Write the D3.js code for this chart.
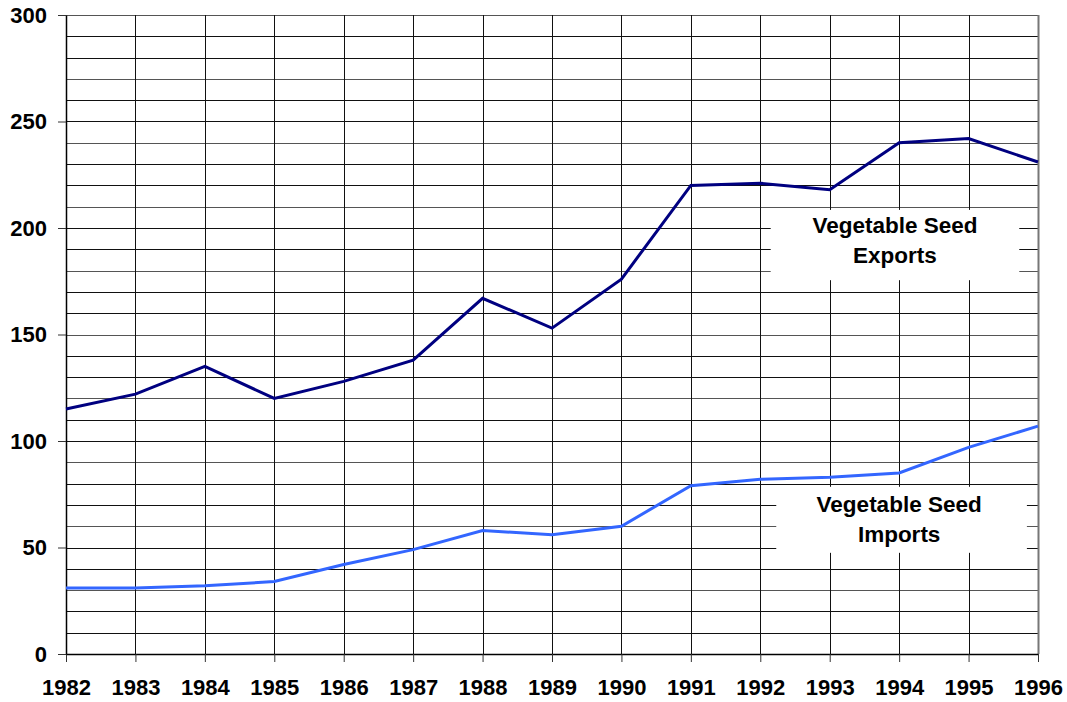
<!DOCTYPE html>
<html>
<head>
<meta charset="utf-8">
<script src="https://cdn.jsdelivr.net/npm/d3@7"></script>
<style>
  body { margin: 0; background: #fff; }
  svg { display: block; font-family: Arial, "Liberation Sans", sans-serif; }
</style>
</head>
<body>
<svg id="drawing_region"></svg>
<script>
// data
const years = [1982, 1983, 1984, 1985, 1986, 1987, 1988, 1989, 1990, 1991, 1992, 1993, 1994, 1995, 1996];
const exportsValues = [115, 122, 135, 120, 128, 138, 167, 153, 176, 220, 221, 218, 240, 242, 231];
const importsValues = [31, 31, 32, 34, 42, 49, 58, 56, 60, 79, 82, 83, 85, 97, 107];
const yTicks = [0, 50, 100, 150, 200, 250, 300];

const config = {
  width: 1067,
  height: 702,
  margin: { top: 15, right: 29, bottom: 48, left: 66 }
};

const svg = d3.select('#drawing_region')
  .attr('width', config.width)
  .attr('height', config.height);

const inner_width = config.width - config.margin.left - config.margin.right;
const inner_height = config.height - config.margin.top - config.margin.bottom;

const chart = svg.append('g')
  .attr('transform', `translate(${config.margin.left}, ${config.margin.top})`);

const xscale = d3.scaleLinear().domain([1982, 1996]).range([0, inner_width]);
const yscale = d3.scaleLinear().domain([0, 300]).range([inner_height, 0]);

// grid lines
chart.append('g')
  .selectAll('line')
  .data(d3.range(10, 301, 10))
  .join('line')
  .attr('x1', 0)
  .attr('x2', inner_width)
  .attr('y1', d => Math.round(yscale(d)) + 0.5)
  .attr('y2', d => Math.round(yscale(d)) + 0.5)
  .attr('stroke', d => d % 30 === 0 ? '#555' : '#111')
  .attr('stroke-width', 1);

chart.append('g')
  .selectAll('line')
  .data(years.slice(1, -1))
  .join('line')
  .attr('x1', d => Math.round(xscale(d)) + 0.5)
  .attr('x2', d => Math.round(xscale(d)) + 0.5)
  .attr('y1', 0)
  .attr('y2', inner_height)
  .attr('stroke', '#111')
  .attr('stroke-width', 1);

// white boxes behind the labels
const boxes = [
  { x0: 1992.15, x1: 1995.73, y0: 208.5, y1: 175.5 },
  { x0: 1992.23, x1: 1995.84, y0: 78.5, y1: 47.5 }
];
chart.append('g')
  .selectAll('rect')
  .data(boxes)
  .join('rect')
  .attr('x', d => xscale(d.x0))
  .attr('y', d => yscale(d.y0))
  .attr('width', d => xscale(d.x1) - xscale(d.x0))
  .attr('height', d => yscale(d.y1) - yscale(d.y0))
  .attr('fill', '#fff');

// right edge of the plot, grey
chart.append('line')
  .attr('x1', inner_width + 0.5).attr('x2', inner_width + 0.5)
  .attr('y1', 0).attr('y2', inner_height)
  .attr('stroke', '#777').attr('stroke-width', 2);

// axes
const xaxis = d3.axisBottom(xscale)
  .tickValues(years)
  .tickFormat(d3.format('d'))
  .tickSizeInner(8)
  .tickSizeOuter(0)
  .tickPadding(17);

const yaxis = d3.axisLeft(yscale)
  .tickValues(yTicks)
  .tickSizeInner(8)
  .tickSizeOuter(0)
  .tickPadding(11);

const xaxis_group = chart.append('g')
  .attr('transform', `translate(0, ${inner_height})`)
  .call(xaxis);

const yaxis_group = chart.append('g')
  .call(yaxis);

[xaxis_group, yaxis_group].forEach(g => {
  g.selectAll('path.domain').attr('stroke', '#000').attr('stroke-width', 1.5);
  g.selectAll('.tick line').attr('stroke', '#333');
  g.selectAll('text')
    .attr('fill', '#000')
    .style('font-size', '22px')
    .style('font-weight', 'bold')
    .style('font-family', 'Arial, "Liberation Sans", sans-serif');
});

// lines
const line = d3.line()
  .x(d => xscale(d[0]))
  .y(d => yscale(d[1]));

chart.append('path')
  .datum(years.map((y, i) => [y, exportsValues[i]]))
  .attr('fill', 'none')
  .attr('stroke', '#000080')
  .attr('stroke-width', 3)
  .attr('d', line);

chart.append('path')
  .datum(years.map((y, i) => [y, importsValues[i]]))
  .attr('fill', 'none')
  .attr('stroke', '#3366FF')
  .attr('stroke-width', 3)
  .attr('d', line);

// labels
const labels = [
  { x: 1993.94, y: 197.5, lines: ['Vegetable Seed', 'Exports'] },
  { x: 1994.0, y: 66.5, lines: ['Vegetable Seed', 'Imports'] }
];
labels.forEach(l => {
  const t = chart.append('text')
    .attr('x', xscale(l.x))
    .attr('y', yscale(l.y))
    .attr('text-anchor', 'middle')
    .style('font-size', '22.5px')
    .style('font-weight', 'bold')
    .attr('fill', '#000');
  l.lines.forEach((s, i) => {
    t.append('tspan')
      .attr('x', xscale(l.x))
      .attr('dy', i === 0 ? 0 : 30)
      .text(s);
  });
});
</script>
</body>
</html>
